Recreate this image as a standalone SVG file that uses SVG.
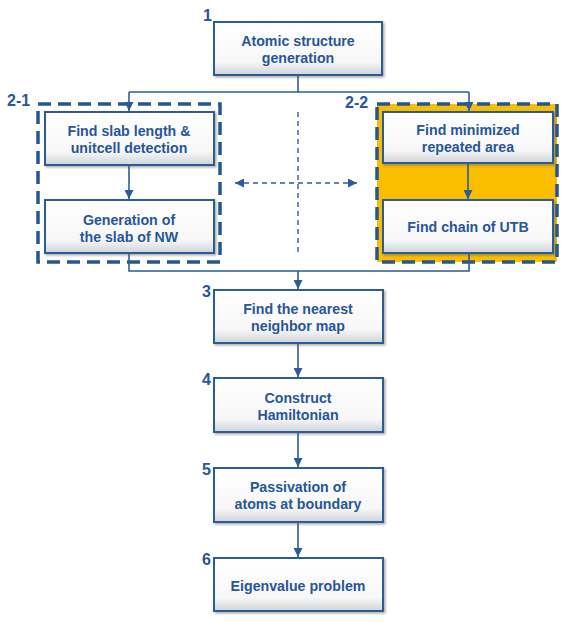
<svg xmlns="http://www.w3.org/2000/svg" width="580" height="622" viewBox="0 0 580 622">
  <style>
    .box { fill: url(#bevel); stroke: #2c5c98; stroke-width: 2; }
    .lbl { font-family: "Liberation Sans", Arial, sans-serif; font-weight: bold; font-size: 14.2px; fill: #27569a; text-anchor: middle; }
    .num { font-family: "Liberation Sans", Arial, sans-serif; font-weight: bold; font-size: 16px; fill: #27569a; }
    .line { fill: none; stroke: #2c5c98; stroke-width: 1.6; }
    .dash { fill: none; stroke: #2c5c98; stroke-width: 1.4; stroke-dasharray: 5 4; }
    .group { stroke: #24578f; stroke-width: 3.5; stroke-dasharray: 13 7; }
  </style>
  <defs>
    <linearGradient id="bevel" x1="0" y1="0" x2="0" y2="1">
      <stop offset="0" stop-color="#ffffff"/>
      <stop offset="0.75" stop-color="#f7f7f7"/>
      <stop offset="1" stop-color="#cfd3d8"/>
    </linearGradient>
    <filter id="shade" x="-5%" y="-5%" width="115%" height="120%">
      <feDropShadow dx="1.5" dy="1.5" stdDeviation="1" flood-color="#555" flood-opacity="0.5"/>
    </filter>
    <marker id="arr" viewBox="0 0 10 10" refX="10" refY="5" markerWidth="9" markerHeight="9" markerUnits="userSpaceOnUse" orient="auto">
      <path d="M0,0 L10,5 L0,10 Z" fill="#2c5c98"/>
    </marker>
    <marker id="arrS" viewBox="0 0 10 10" refX="10" refY="5" markerWidth="9" markerHeight="9" markerUnits="userSpaceOnUse" orient="auto-start-reverse">
      <path d="M0,0 L10,5 L0,10 Z" fill="#2c5c98"/>
    </marker>
  </defs>

  <!-- stage groups 2-1 and 2-2 -->
  <g id="group-2-1">
    <rect x="38" y="104" width="182" height="158" fill="none" class="group"/>
    <text class="num" x="7" y="106">2-1</text>
  </g>
  <g id="group-2-2">
    <rect x="377" y="104" width="180" height="158" fill="#f9be00" class="group"/>
    <text class="num" x="345" y="108">2-2</text>
  </g>

  <!-- connectors -->
  <g id="connectors">
    <path class="line" d="M298,75 V92"/>
    <path class="line" d="M129,92 H469"/>
    <path class="line" d="M129,92 V111" marker-end="url(#arr)"/>
    <path class="line" d="M469,92 V111" marker-end="url(#arr)"/>
    <path class="line" d="M129,165 V199" marker-end="url(#arr)"/>
    <path class="line" d="M468,163 V199" marker-end="url(#arr)"/>
    <path class="line" d="M129,253 V271 H469 V253"/>
    <path class="line" d="M298,271 V289" marker-end="url(#arr)"/>
    <path class="line" d="M298,343 V377" marker-end="url(#arr)"/>
    <path class="line" d="M298,432 V467" marker-end="url(#arr)"/>
    <path class="line" d="M298,522 V557" marker-end="url(#arr)"/>
    <path class="dash" d="M298,112 V252"/>
    <path class="dash" d="M235,183 H357" marker-start="url(#arrS)" marker-end="url(#arrS)"/>
  </g>

  <g id="node-1">
    <rect class="box" x="214" y="22" width="168" height="53" filter="url(#shade)"/>
    <text class="lbl" x="298" y="46">Atomic structure</text>
    <text class="lbl" x="298" y="63">generation</text>
    <text class="num" x="203" y="21">1</text>
  </g>
  <g id="node-2-1a">
    <rect class="box" x="45" y="112" width="169" height="53" filter="url(#shade)"/>
    <text class="lbl" x="129" y="136">Find slab length &amp;</text>
    <text class="lbl" x="129" y="153">unitcell detection</text>
  </g>
  <g id="node-2-1b">
    <rect class="box" x="45" y="200" width="169" height="53" filter="url(#shade)"/>
    <text class="lbl" x="129" y="225">Generation of</text>
    <text class="lbl" x="129" y="242">the slab of NW</text>
  </g>
  <g id="node-2-2a">
    <rect class="box" x="383" y="112" width="170" height="51" filter="url(#shade)"/>
    <text class="lbl" x="468" y="135">Find minimized</text>
    <text class="lbl" x="468" y="152">repeated area</text>
  </g>
  <g id="node-2-2b">
    <rect class="box" x="383" y="200" width="170" height="53" filter="url(#shade)"/>
    <text class="lbl" x="468" y="232">Find chain of UTB</text>
  </g>
  <g id="node-3">
    <rect class="box" x="214" y="290" width="169" height="53" filter="url(#shade)"/>
    <text class="lbl" x="298" y="314">Find the nearest</text>
    <text class="lbl" x="298" y="331">neighbor map</text>
    <text class="num" x="202" y="297">3</text>
  </g>
  <g id="node-4">
    <rect class="box" x="214" y="378" width="169" height="54" filter="url(#shade)"/>
    <text class="lbl" x="298" y="403">Construct</text>
    <text class="lbl" x="298" y="420">Hamiltonian</text>
    <text class="num" x="202" y="385">4</text>
  </g>
  <g id="node-5">
    <rect class="box" x="214" y="468" width="169" height="54" filter="url(#shade)"/>
    <text class="lbl" x="298" y="492">Passivation of</text>
    <text class="lbl" x="298" y="509">atoms at boundary</text>
    <text class="num" x="202" y="475">5</text>
  </g>
  <g id="node-6">
    <rect class="box" x="214" y="558" width="169" height="53" filter="url(#shade)"/>
    <text class="lbl" x="298" y="591">Eigenvalue problem</text>
    <text class="num" x="202" y="565">6</text>
  </g>
</svg>
